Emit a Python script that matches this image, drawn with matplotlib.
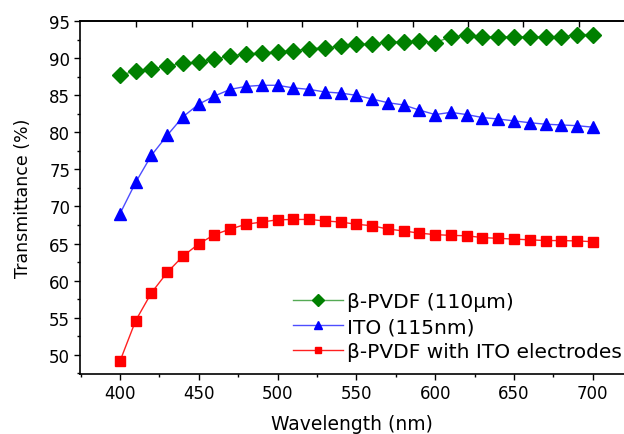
import matplotlib
matplotlib.use("Agg")
import matplotlib.pyplot as plt
from matplotlib.ticker import MultipleLocator, FixedLocator, NullFormatter

plt.rcParams['font.family'] = ['DejaVu Sans']

wavelength = list(range(400, 701, 10))

pvdf = [87.7, 88.3, 88.5, 89.0, 89.3, 89.5, 89.9, 90.3, 90.6, 90.7,
        90.9, 91.0, 91.3, 91.4, 91.6, 91.9, 91.9, 92.2, 92.2, 92.3,
        92.1, 92.9, 93.1, 92.9, 92.9, 92.9, 92.9, 92.9, 92.9, 93.2, 93.2]

ito = [69.0, 73.25, 76.9, 79.6, 82.1, 83.8, 84.9, 85.8, 86.2, 86.35,
       86.35, 86.0, 85.8, 85.45, 85.3, 85.0, 84.5, 84.0, 83.7, 83.0,
       82.4, 82.7, 82.4, 82.0, 81.8, 81.55, 81.3, 81.1, 81.0, 80.9, 80.7]

pvdf_ito = [49.1, 54.6, 58.35, 61.1, 63.3, 64.95, 66.2, 66.95, 67.6, 67.9,
            68.2, 68.25, 68.25, 68.05, 67.9, 67.6, 67.4, 66.95, 66.7, 66.4,
            66.2, 66.1, 66.05, 65.8, 65.7, 65.6, 65.5, 65.4, 65.4, 65.35, 65.25]

labels = ['β-PVDF (110μm)', 'ITO (115nm)', 'β-PVDF with ITO electrodes']
top_ticks = [410, 445.5, 480.5, 515.5, 550.5, 586, 621, 656, 691]

fig = plt.figure(figsize=(6.24, 4.35), dpi=100)
ax = fig.add_axes([0.128, 0.138, 0.872, 0.811])

ax.plot(wavelength, pvdf, color='#55aa55', lw=1, marker='D', ms=8.5,
        mec='#008000', mfc='#008000', label=labels[0])
ax.plot(wavelength, ito, color='#4d4dff', lw=1, marker='^', ms=8.5,
        mec='#0000FF', mfc='#0000FF', label=labels[1])
ax.plot(wavelength, pvdf_ito, color='#FF2020', lw=1, marker='s', ms=6.5,
        mec='#FF0000', mfc='#FF0000', label=labels[2])

ax.set_xlim(374.6, 719.8)
ax.set_ylim(47.4, 95)
ax.xaxis.set_major_locator(MultipleLocator(50))
ax.xaxis.set_minor_locator(MultipleLocator(25))
ax.yaxis.set_major_locator(MultipleLocator(5))
ax.yaxis.set_minor_locator(MultipleLocator(2.5))

ax.spines['right'].set_visible(False)
for s in ['left', 'bottom', 'top']:
    ax.spines[s].set_linewidth(1.2)

ax.tick_params(axis='both', which='major', direction='out', length=4,
               width=1, labelsize=12, pad=3)
ax.tick_params(axis='both', which='minor', direction='out', length=2.5, width=1)

top = ax.secondary_xaxis('top')
top.xaxis.set_major_locator(FixedLocator(top_ticks))
top.xaxis.set_major_formatter(NullFormatter())
top.tick_params(direction='in', length=4, width=1)
top.spines['top'].set_linewidth(1.2)

ax.set_xlabel('Wavelength (nm)', fontsize=13.5, labelpad=9)
ax.set_ylabel('Transmittance (%)', fontsize=12.5, labelpad=12)

leg = ax.legend(loc='lower right', bbox_to_anchor=(1.0, 0.03), frameon=False,
                fontsize=14.5, handlelength=2.5, handletextpad=0.2,
                labelspacing=0.3, borderaxespad=0.0, borderpad=0.1,
                markerscale=0.75)

fig.savefig('out.png', dpi=100)
